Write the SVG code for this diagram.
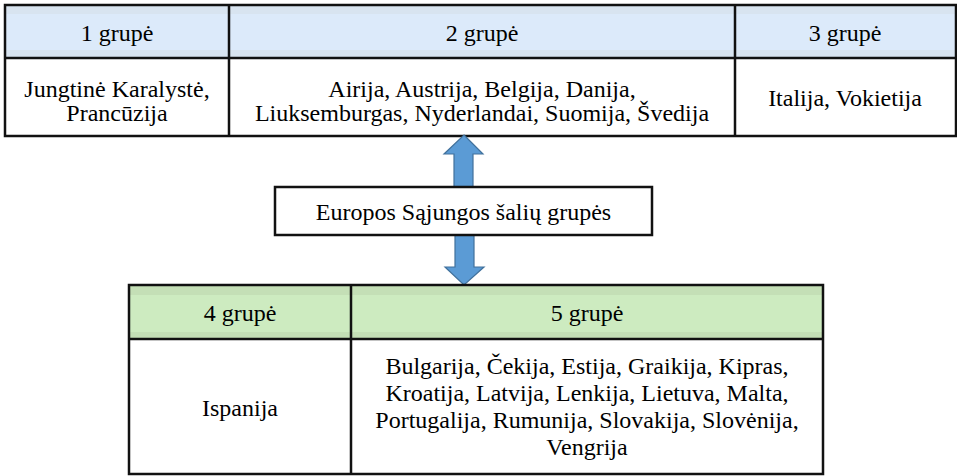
<svg xmlns="http://www.w3.org/2000/svg" width="957" height="476" viewBox="0 0 957 476">
<style>
  .t { font-family: 'Liberation Serif', 'Times New Roman', Times, serif; font-size: 24px; fill: #000; text-anchor: middle; }
  .grid { fill: none; stroke: #111; stroke-width: 2.5; }
  .hb { fill: #dceafa; }
  .hbBand { fill: #d8e4f0; }
  .hg { fill: #cdebc0; }
  .hgBand { fill: #c4dfb6; }
  .cell { fill: #ffffff; }
  .arrow { fill: #5b9bd5; stroke: #41719c; stroke-width: 1.2; stroke-linejoin: miter; }
</style>
<rect width="957" height="476" fill="#ffffff"/>

<g id="top-table">
  <g id="group1">
    <rect class="hb" x="5" y="5" width="224" height="53"/>
    <rect class="hbBand" x="5" y="5" width="224" height="9"/>
    <rect class="hbBand" x="5" y="50" width="224" height="8"/>
    <rect class="cell" x="5" y="58" width="224" height="78"/>
    <g class="t" font-family="Liberation Serif, Times New Roman, serif">
      <text x="117" y="41">1 grupė</text>
      <text x="117" y="97">Jungtinė Karalystė,</text>
      <text x="117" y="121">Prancūzija</text>
    </g>
  </g>
  <g id="group2">
    <rect class="hb" x="229" y="5" width="506" height="53"/>
    <rect class="hbBand" x="229" y="5" width="506" height="9"/>
    <rect class="hbBand" x="229" y="50" width="506" height="8"/>
    <rect class="cell" x="229" y="58" width="506" height="78"/>
    <g class="t" font-family="Liberation Serif, Times New Roman, serif">
      <text x="482" y="41">2 grupė</text>
      <text x="482" y="97">Airija, Austrija, Belgija, Danija,</text>
      <text x="482" y="121">Liuksemburgas, Nyderlandai, Suomija, Švedija</text>
    </g>
  </g>
  <g id="group3">
    <rect class="hb" x="735" y="5" width="221" height="53"/>
    <rect class="hbBand" x="735" y="5" width="221" height="9"/>
    <rect class="hbBand" x="735" y="50" width="221" height="8"/>
    <rect class="cell" x="735" y="58" width="221" height="78"/>
    <g class="t" font-family="Liberation Serif, Times New Roman, serif">
      <text x="845" y="41">3 grupė</text>
      <text x="845" y="106">Italija, Vokietija</text>
    </g>
  </g>
  <path class="grid" d="M5 5H956V136H5Z M5 58H956 M229 5V136 M735 5V136"/>
</g>

<g id="connectors">
  <path class="arrow" d="M464 135 L483 154 L473 154 L473 187 L454 187 L454 154 L444 154 Z"/>
  <path class="arrow" d="M455 235 L474 235 L474 267 L484 267 L464 285 L445 267 L455 267 Z"/>
</g>

<g id="center-node">
  <rect x="275" y="187" width="377" height="48" fill="#ffffff" stroke="#111" stroke-width="2.5"/>
  <text class="t" font-family="Liberation Serif, Times New Roman, serif" x="463.5" y="220">Europos Sąjungos šalių grupės</text>
</g>

<g id="bottom-table">
  <g id="group4">
    <rect class="hg" x="129" y="285" width="222" height="54"/>
    <rect class="hgBand" x="129" y="285" width="222" height="10"/>
    <rect class="hgBand" x="129" y="332" width="222" height="7"/>
    <rect class="cell" x="129" y="339" width="222" height="135"/>
    <g class="t" font-family="Liberation Serif, Times New Roman, serif">
      <text x="240" y="321">4 grupė</text>
      <text x="240" y="416">Ispanija</text>
    </g>
  </g>
  <g id="group5">
    <rect class="hg" x="351" y="285" width="472" height="54"/>
    <rect class="hgBand" x="351" y="285" width="472" height="10"/>
    <rect class="hgBand" x="351" y="332" width="472" height="7"/>
    <rect class="cell" x="351" y="339" width="472" height="135"/>
    <g class="t" font-family="Liberation Serif, Times New Roman, serif">
      <text x="587" y="321">5 grupė</text>
      <text x="587" y="374">Bulgarija, Čekija, Estija, Graikija, Kipras,</text>
      <text x="587" y="401">Kroatija, Latvija, Lenkija, Lietuva, Malta,</text>
      <text x="587" y="428">Portugalija, Rumunija, Slovakija, Slovėnija,</text>
      <text x="587" y="455">Vengrija</text>
    </g>
  </g>
  <path class="grid" d="M129 285H823V474H129Z M129 339H823 M351 285V474"/>
</g>
</svg>
